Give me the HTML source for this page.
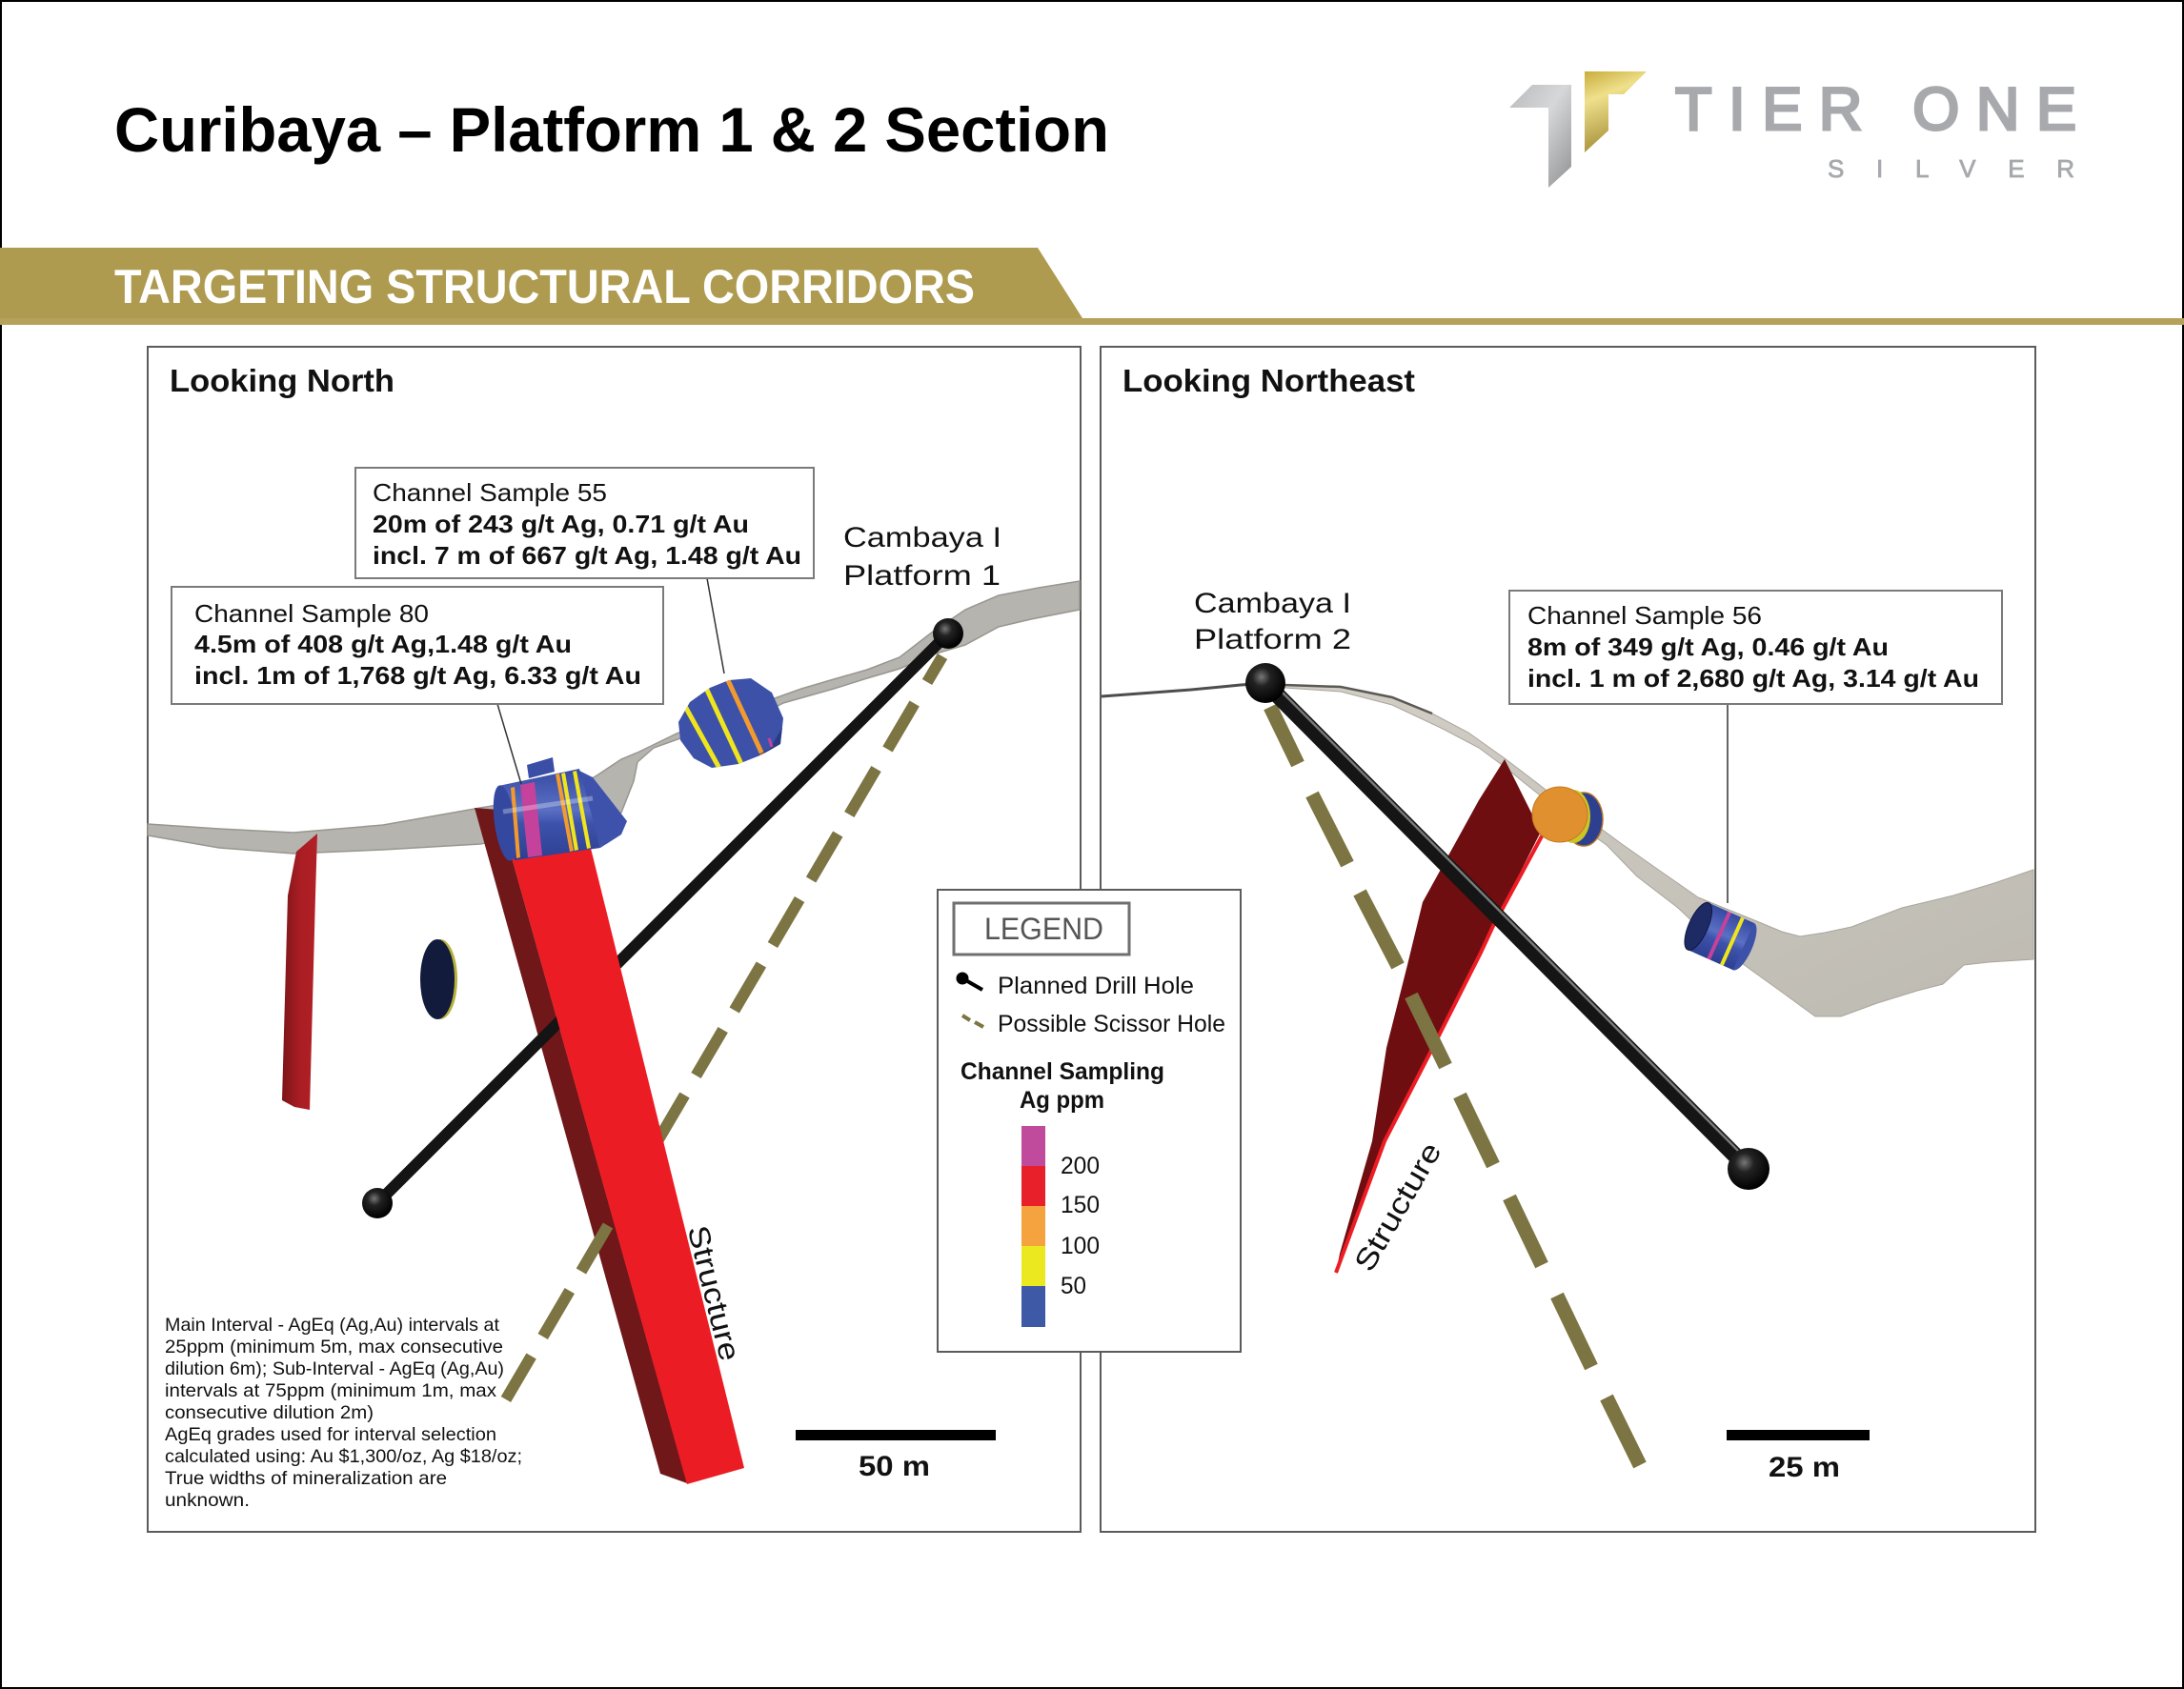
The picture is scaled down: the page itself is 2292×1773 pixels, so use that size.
<!DOCTYPE html>
<html><head><meta charset="utf-8"><style>
html,body{margin:0;padding:0;background:#fff;}
svg{display:block;}
text{font-family:"Liberation Sans",Arial,sans-serif;}
</style></head><body>
<svg width="2292" height="1773" viewBox="0 0 2292 1773" xmlns="http://www.w3.org/2000/svg">
<defs>
<radialGradient id="ball" cx="0.4" cy="0.35" r="0.65"><stop offset="0" stop-color="#777"/><stop offset="0.35" stop-color="#222"/><stop offset="1" stop-color="#000"/></radialGradient>
<linearGradient id="grayT" x1="0" y1="0" x2="1" y2="1"><stop offset="0" stop-color="#b9babc"/><stop offset="0.45" stop-color="#d6d7d9"/><stop offset="1" stop-color="#8f9194"/></linearGradient>
<linearGradient id="goldT" x1="0" y1="0" x2="0.3" y2="1"><stop offset="0" stop-color="#c9ad3c"/><stop offset="0.35" stop-color="#efe08c"/><stop offset="1" stop-color="#a48d35"/></linearGradient>
<linearGradient id="strip" x1="0" y1="0" x2="1" y2="0"><stop offset="0" stop-color="#7c1518"/><stop offset="0.5" stop-color="#a81d23"/><stop offset="1" stop-color="#b32027"/></linearGradient>
<linearGradient id="cyl" x1="0" y1="0" x2="0" y2="1"><stop offset="0" stop-color="#3549a0"/><stop offset="0.45" stop-color="#5a70c4"/><stop offset="0.6" stop-color="#3d52aa"/><stop offset="1" stop-color="#2c3f92"/></linearGradient>
<linearGradient id="blob" x1="0" y1="0" x2="1" y2="1"><stop offset="0" stop-color="#d3cfc6"/><stop offset="1" stop-color="#bdbab2"/></linearGradient>
<clipPath id="c55"><polygon points="712,758 724,737 745,722 765,714 788,712 810,727 822,754 819,781 800,792 775,802 747,806 728,796 714,777"/></clipPath>
</defs>
<rect x="0" y="0" width="2292" height="1773" fill="#fff"/>
<rect x="1" y="1" width="2290" height="1771" fill="none" stroke="#000" stroke-width="2"/>

<!-- Header -->
<text x="120" y="159" font-size="66" font-weight="bold" fill="#000" textLength="1044" lengthAdjust="spacingAndGlyphs">Curibaya – Platform 1 &amp; 2 Section</text>
<polygon points="1584,113 1608,89 1649,89 1649,175 1625,197 1625,113" fill="url(#grayT)"/>
<polygon points="1663,75 1728,75 1704,99 1688,99 1688,137 1663,160" fill="url(#goldT)"/>
<text x="1758" y="136" font-size="63" fill="#a7a9ac" stroke="#a7a9ac" stroke-width="3" textLength="421" lengthAdjust="spacing">TIER ONE</text>
<text x="1918" y="186" font-size="26" fill="#a7a9ac" textLength="259" lengthAdjust="spacing" stroke="#a7a9ac" stroke-width="0.8">SILVER</text>

<polygon points="0,260 1089,260 1136,334 0,334" fill="#ae9b50"/>
<rect x="0" y="334" width="2292" height="7" fill="#b4a25c"/>
<text x="120" y="318" font-size="50" font-weight="bold" fill="#fff" textLength="903" lengthAdjust="spacingAndGlyphs">TARGETING STRUCTURAL CORRIDORS</text>

<!-- Panels -->
<rect x="155" y="364" width="979" height="1244" fill="#fff" stroke="#5b5b5b" stroke-width="2"/>
<rect x="1155" y="364" width="981" height="1244" fill="#fff" stroke="#5b5b5b" stroke-width="2"/>
<text x="178" y="411" font-size="33" font-weight="bold" fill="#111" textLength="236" lengthAdjust="spacingAndGlyphs">Looking North</text>
<text x="1178" y="411" font-size="33" font-weight="bold" fill="#111" textLength="307" lengthAdjust="spacingAndGlyphs">Looking Northeast</text>

<!-- LEFT PANEL -->
<polygon points="155,865 230,870 308,874 402,866 504,848 540,842 600,830 628,813 652,797 669,790 710,770 760,750 813,733 841,723 875,713 910,703 944,690 979,663 1013,640 1048,625 1090,617 1133,610 1133,640 1082,650 1048,658 1013,677 979,687 944,702 910,712 875,723 822,738 780,760 714,775 686,785 669,800 665,820 652,853 621,873 592,871 504,886 402,892 308,896 230,890 155,877" fill="#b6b4af" stroke="#98968f" stroke-width="1.5"/>
<polygon points="311,894 333,875 331,940 325,1165 309,1162 296,1155 302,940" fill="url(#strip)"/>
<ellipse cx="462" cy="1028" rx="18" ry="42" fill="#b5b13c"/>
<ellipse cx="459" cy="1028" rx="18" ry="42" fill="#121b3c"/>
<!-- structure dark face -->
<polygon points="498,848 523,850 721,1557 693,1547" fill="#701719"/>
<!-- drill hole left -->
<line x1="995" y1="665" x2="396" y2="1263" stroke="#141414" stroke-width="12"/>
<circle cx="396" cy="1263" r="16" fill="url(#ball)"/>
<!-- scissor dashes left -->
<g stroke="#7c7442" stroke-width="12" stroke-linecap="butt">
<line x1="989" y1="689" x2="973" y2="716"/>
<line x1="959.7" y1="738.5" x2="931.5" y2="786.5"/>
<line x1="919.5" y1="807" x2="891.3" y2="855"/>
<line x1="879.3" y1="875.5" x2="851.1" y2="923.5"/>
<line x1="839.1" y1="944" x2="810.9" y2="992"/>
<line x1="798.9" y1="1012.5" x2="770.7" y2="1060.5"/>
<line x1="758.7" y1="1081" x2="730.5" y2="1129"/>
<line x1="718.5" y1="1149.5" x2="690.3" y2="1197.5"/>
<line x1="678.3" y1="1218" x2="650.1" y2="1266"/>
<line x1="638" y1="1286.5" x2="609.9" y2="1334.5"/>
<line x1="597.8" y1="1355" x2="569.7" y2="1403"/>
<line x1="557.6" y1="1423.5" x2="530.9" y2="1469"/>
</g>
<!-- structure bright face -->
<polygon points="523,850 610,850 781,1541 721,1558" fill="#ec1c24"/>
<!-- sample 80 -->
<polygon points="553,803 580,795 582,810 555,817" fill="#3a4ea6"/>
<polygon points="606,808 622,816 658,862 652,876 630,890" fill="#3e52ab"/>
<polygon points="523,825 608,807 630,890 540,903" fill="url(#cyl)"/>
<ellipse cx="530" cy="864" rx="11" ry="40" transform="rotate(-8 530 864)" fill="#3448a0"/>
<polygon points="536,827 540,826 546,900 542,901" fill="#f29a2e"/>
<polygon points="546,824 561,821 569,898 554,900" fill="#c4429b"/>
<polygon points="583,813 587,812 602,893 598,894" fill="#f29a2e"/>
<polygon points="589,812 593,811 607,892 603,893" fill="#f0e51c"/>
<polygon points="601,810 605,809 620,890 616,891" fill="#f0e51c"/>
<line x1="528" y1="852" x2="622" y2="838" stroke="#ffffff" stroke-opacity="0.3" stroke-width="5"/>
<!-- sample 55 -->
<polygon points="712,758 724,737 745,722 765,714 788,712 810,727 822,754 819,781 800,792 775,802 747,806 728,796 714,777" fill="#3d51a9"/>
<g clip-path="url(#c55)">
<line x1="716" y1="736" x2="757" y2="810" stroke="#f0e51c" stroke-width="5"/>
<line x1="740" y1="720" x2="778" y2="802" stroke="#f0e51c" stroke-width="5"/>
<line x1="763" y1="712" x2="800" y2="792" stroke="#f29a2e" stroke-width="5"/>
<polygon points="790,795 822,782 823,760 808,786" fill="#2a3a85"/>
</g>
<line x1="807" y1="775" x2="810" y2="784" stroke="#c4429b" stroke-width="3"/>
<circle cx="995" cy="665" r="16" fill="url(#ball)"/>

<!-- Boxes left -->
<line x1="742" y1="607" x2="760" y2="707" stroke="#333" stroke-width="1.5"/>
<line x1="522" y1="739" x2="547" y2="823" stroke="#333" stroke-width="1.5"/>
<rect x="373" y="491" width="481" height="116" fill="#fff" stroke="#7a7a7a" stroke-width="2"/>
<text x="391" y="526" font-size="26" fill="#111" textLength="246" lengthAdjust="spacingAndGlyphs">Channel Sample 55</text>
<text x="391" y="559" font-size="26" font-weight="bold" fill="#111" textLength="395" lengthAdjust="spacingAndGlyphs">20m of 243 g/t Ag, 0.71 g/t Au</text>
<text x="391" y="592" font-size="26" font-weight="bold" fill="#111" textLength="450" lengthAdjust="spacingAndGlyphs">incl. 7 m of 667 g/t Ag, 1.48 g/t Au</text>
<rect x="180" y="616" width="516" height="123" fill="#fff" stroke="#7a7a7a" stroke-width="2"/>
<text x="204" y="653" font-size="26" fill="#111" textLength="246" lengthAdjust="spacingAndGlyphs">Channel Sample 80</text>
<text x="204" y="685" font-size="26" font-weight="bold" fill="#111" textLength="396" lengthAdjust="spacingAndGlyphs">4.5m of 408 g/t Ag,1.48 g/t Au</text>
<text x="204" y="718" font-size="26" font-weight="bold" fill="#111" textLength="469" lengthAdjust="spacingAndGlyphs">incl. 1m of 1,768 g/t Ag, 6.33 g/t Au</text>
<text x="885" y="574" font-size="30" fill="#111" textLength="166" lengthAdjust="spacingAndGlyphs">Cambaya I</text>
<text x="885" y="614" font-size="30" fill="#111" textLength="165" lengthAdjust="spacingAndGlyphs">Platform 1</text>
<text x="0" y="0" font-size="31" fill="#111" text-anchor="middle" textLength="145" lengthAdjust="spacingAndGlyphs" transform="translate(739 1360) rotate(76)">Structure</text>

<!-- Notes -->
<g font-size="19.5" fill="#111">
<text x="173" y="1397" textLength="351" lengthAdjust="spacingAndGlyphs">Main Interval - AgEq (Ag,Au) intervals at</text>
<text x="173" y="1420" textLength="355" lengthAdjust="spacingAndGlyphs">25ppm (minimum 5m, max consecutive</text>
<text x="173" y="1443" textLength="356" lengthAdjust="spacingAndGlyphs">dilution 6m); Sub-Interval - AgEq (Ag,Au)</text>
<text x="173" y="1466" textLength="348" lengthAdjust="spacingAndGlyphs">intervals at 75ppm (minimum 1m, max</text>
<text x="173" y="1489" textLength="219" lengthAdjust="spacingAndGlyphs">consecutive dilution 2m)</text>
<text x="173" y="1512" textLength="348" lengthAdjust="spacingAndGlyphs">AgEq grades used for interval selection</text>
<text x="173" y="1535" textLength="375" lengthAdjust="spacingAndGlyphs">calculated using: Au $1,300/oz, Ag $18/oz;</text>
<text x="173" y="1558" textLength="296" lengthAdjust="spacingAndGlyphs">True widths of mineralization are</text>
<text x="173" y="1581" textLength="89" lengthAdjust="spacingAndGlyphs">unknown.</text>
</g>
<rect x="835" y="1501" width="210" height="11" fill="#000"/>
<text x="901" y="1549" font-size="30" font-weight="bold" fill="#111" textLength="75" lengthAdjust="spacingAndGlyphs">50 m</text>

<!-- RIGHT PANEL -->
<polyline points="1156,731 1250,724 1302,719 1330,717" fill="none" stroke="#4d4d4b" stroke-width="3"/>
<polygon points="1330,716 1348,719 1407,721 1461,732 1503,749 1541,769 1579,796 1600,812 1630,835 1675,866 1702,886 1739,912 1782,942 1846,968 1870,978 1889,983 1915,979 1943,973 1996,953 2050,940 2093,927 2134,913 2134,1007 2087,1010 2061,1013 2039,1033 2012,1040 1970,1053 1932,1067 1905,1067 1868,1040 1836,1017 1800,990 1761,953 1718,920 1686,887 1650,862 1600,822 1579,805 1552,785 1514,765 1461,740 1407,726 1348,722 1330,721" fill="url(#blob)" stroke="#a9a59c" stroke-width="1"/>
<polyline points="1330,717 1348,719 1407,721 1461,732 1503,749" fill="none" stroke="#5a5955" stroke-width="2.5"/>
<!-- red sheet -->
<polygon points="1579,797 1617,873 1567,972 1554,1000 1504,1099 1453,1198 1402,1336 1406,1316 1440,1198 1455,1100 1477,1013 1493,947 1530,880 1552,840" fill="#6e0e10"/>
<polyline points="1619,876 1567,972 1554,1000 1504,1099 1453,1198 1402,1336" fill="none" stroke="#ee1c24" stroke-width="4"/>
<!-- scissor dashes right -->
<g stroke="#7c7442" stroke-width="15" stroke-linecap="butt">
<line x1="1333" y1="742" x2="1362" y2="802"/>
<line x1="1377" y1="834" x2="1414" y2="907"/>
<line x1="1427" y1="937" x2="1467" y2="1014"/>
<line x1="1481" y1="1045" x2="1517" y2="1119"/>
<line x1="1532" y1="1150" x2="1567" y2="1223"/>
<line x1="1584" y1="1257" x2="1618" y2="1328"/>
<line x1="1634" y1="1360" x2="1670" y2="1435"/>
<line x1="1686" y1="1467" x2="1721" y2="1538"/>
</g>
<!-- drill right -->
<line x1="1328" y1="717" x2="1835" y2="1227" stroke="#151515" stroke-width="17"/>
<line x1="1332" y1="713" x2="1839" y2="1223" stroke="#7a7a7a" stroke-width="2.5"/>
<circle cx="1835" cy="1227" r="22" fill="url(#ball)"/>
<!-- orange sample -->
<ellipse cx="1662" cy="860" rx="20" ry="28" fill="#2d3f8f" stroke="#b0702a" stroke-width="1.5"/>
<ellipse cx="1651" cy="857" rx="18" ry="28" fill="#c9c626"/>
<ellipse cx="1637" cy="855" rx="29" ry="29" fill="#e0902f" stroke="#c77a20" stroke-width="1"/>
<!-- sample 56 -->
<g transform="translate(1806 983) rotate(24)">
<ellipse cx="26" cy="0" rx="9" ry="27" fill="#3c51a8"/>
<rect x="-26" y="-27" width="52" height="54" fill="url(#cyl)"/>
<rect x="-4" y="-27" width="4" height="54" fill="#c4429b"/>
<rect x="11" y="-27" width="4" height="54" fill="#f0e51c"/>
<ellipse cx="-26" cy="0" rx="10" ry="27" fill="#1e2a63" stroke="#101840" stroke-width="1"/>
</g>
<circle cx="1328" cy="717" r="21" fill="url(#ball)"/>
<text x="1253" y="643" font-size="30" fill="#111" textLength="165" lengthAdjust="spacingAndGlyphs">Cambaya I</text>
<text x="1253" y="681" font-size="30" fill="#111" textLength="165" lengthAdjust="spacingAndGlyphs">Platform 2</text>
<line x1="1813" y1="739" x2="1813" y2="948" stroke="#333" stroke-width="1.5"/>
<rect x="1584" y="620" width="517" height="119" fill="#fff" stroke="#7a7a7a" stroke-width="2"/>
<text x="1603" y="655" font-size="26" fill="#111" textLength="246" lengthAdjust="spacingAndGlyphs">Channel Sample 56</text>
<text x="1603" y="688" font-size="26" font-weight="bold" fill="#111" textLength="379" lengthAdjust="spacingAndGlyphs">8m of 349 g/t Ag, 0.46 g/t Au</text>
<text x="1603" y="721" font-size="26" font-weight="bold" fill="#111" textLength="474" lengthAdjust="spacingAndGlyphs">incl. 1 m of 2,680 g/t Ag, 3.14 g/t Au</text>
<text x="0" y="0" font-size="31" fill="#111" text-anchor="middle" textLength="150" lengthAdjust="spacingAndGlyphs" transform="translate(1476 1272) rotate(-60)">Structure</text>
<rect x="1812" y="1501" width="150" height="11" fill="#000"/>
<text x="1856" y="1550" font-size="30" font-weight="bold" fill="#111" textLength="75" lengthAdjust="spacingAndGlyphs">25 m</text>

<!-- LEGEND -->
<rect x="984" y="934" width="318" height="485" fill="#fff" stroke="#5b5b5b" stroke-width="2"/>
<rect x="1001" y="948" width="184" height="54" fill="#fff" stroke="#6f6f6f" stroke-width="3"/>
<text x="1033" y="986" font-size="32" fill="#555" textLength="125" lengthAdjust="spacingAndGlyphs">LEGEND</text>
<line x1="1010" y1="1027" x2="1031" y2="1039" stroke="#000" stroke-width="4"/>
<circle cx="1010" cy="1027" r="6.5" fill="#000"/>
<text x="1047" y="1043" font-size="25" fill="#111" textLength="206" lengthAdjust="spacingAndGlyphs">Planned Drill Hole</text>
<line x1="1010" y1="1066" x2="1018" y2="1071" stroke="#7c7442" stroke-width="4"/>
<line x1="1023" y1="1073" x2="1032" y2="1078" stroke="#7c7442" stroke-width="4"/>
<text x="1047" y="1083" font-size="25" fill="#111" textLength="239" lengthAdjust="spacingAndGlyphs">Possible Scissor Hole</text>
<text x="1008" y="1133" font-size="25" font-weight="bold" fill="#111" textLength="214" lengthAdjust="spacingAndGlyphs">Channel Sampling</text>
<text x="1070" y="1163" font-size="25" font-weight="bold" fill="#111" textLength="89" lengthAdjust="spacingAndGlyphs">Ag ppm</text>
<rect x="1072" y="1182" width="25" height="42" fill="#c04b9c"/>
<rect x="1072" y="1224" width="25" height="42" fill="#e8202a"/>
<rect x="1072" y="1266" width="25" height="42" fill="#f4a33f"/>
<rect x="1072" y="1308" width="25" height="42" fill="#ece81f"/>
<rect x="1072" y="1350" width="25" height="43" fill="#3e5aa6"/>
<text x="1113" y="1232" font-size="25" fill="#111" textLength="41" lengthAdjust="spacingAndGlyphs">200</text>
<text x="1113" y="1273" font-size="25" fill="#111" textLength="41" lengthAdjust="spacingAndGlyphs">150</text>
<text x="1113" y="1316" font-size="25" fill="#111" textLength="41" lengthAdjust="spacingAndGlyphs">100</text>
<text x="1113" y="1358" font-size="25" fill="#111" textLength="27" lengthAdjust="spacingAndGlyphs">50</text>
</svg>
</body></html>
